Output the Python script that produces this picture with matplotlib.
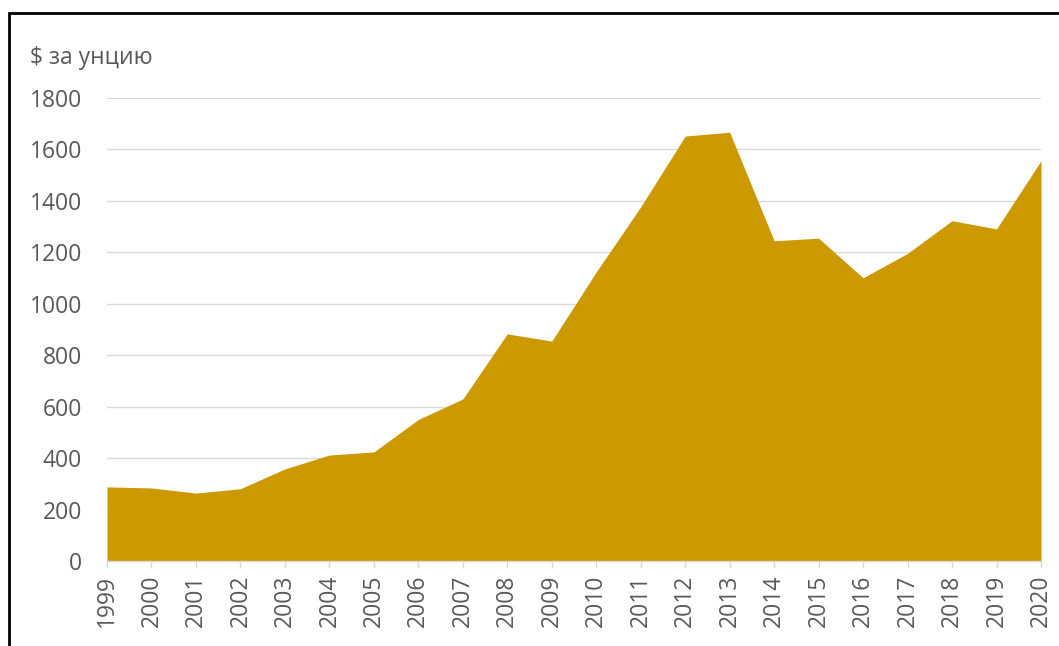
import matplotlib
matplotlib.use("Agg")
import matplotlib.pyplot as plt
from matplotlib.patches import Rectangle

years = [1999, 2000, 2001, 2002, 2003, 2004, 2005, 2006, 2007, 2008, 2009,
         2010, 2011, 2012, 2013, 2014, 2015, 2016, 2017, 2018, 2019, 2020]
prices = [288, 284, 264, 281, 358, 412, 424, 550, 630, 883, 855,
          1124, 1377, 1652, 1667, 1245, 1255, 1101, 1196, 1323, 1291, 1556]
yticks = [0, 200, 400, 600, 800, 1000, 1200, 1400, 1600, 1800]
ylabel = "$ за унцию"

W, H = 1059, 646
fig = plt.figure(figsize=(W / 100, H / 100), dpi=100)
plt.rcParams['font.family'] = ['Open Sans', 'DejaVu Sans']

left, right, top, bottom = 107, 1041, 98, 561
ax = fig.add_axes([left / W, 1 - bottom / H, (right - left) / W, (bottom - top) / H])

gold = '#CC9900'
grey_text = '#595959'
fs = 16.5
ax.fill_between(years, prices, 0, color=gold, linewidth=0, zorder=2)

ax.set_xlim(years[0], years[-1])
ax.set_ylim(0, 1800)
ax.set_yticks(yticks)
ax.set_xticks(years)
ax.set_xticklabels([str(y) for y in years], rotation=90)

for s in ['top', 'right', 'left']:
    ax.spines[s].set_visible(False)
ax.spines['bottom'].set_color('#D9D9D9')
ax.spines['bottom'].set_linewidth(1.0)
ax.spines['bottom'].set_zorder(3)

ax.grid(axis='y', color='#D9D9D9', linewidth=1.0, zorder=1)
ax.set_axisbelow(True)

ax.tick_params(axis='y', length=0, pad=18, labelsize=fs, labelcolor=grey_text)
ax.tick_params(axis='x', length=5, width=1, color='#D9D9D9', pad=5,
               labelsize=fs, labelcolor=grey_text)

fig.text(30 / W, 1 - 58 / H, ylabel, fontsize=fs, color=grey_text,
         ha='left', va='center')

# outer frame (top and left edges visible)
fig.patches.append(Rectangle((9 / W, -0.1), 1.2, 1 - 13 / H + 0.1,
                             transform=fig.transFigure, fill=False,
                             edgecolor='black', linewidth=2.0))

fig.savefig('out.png', dpi=100, facecolor='white')
